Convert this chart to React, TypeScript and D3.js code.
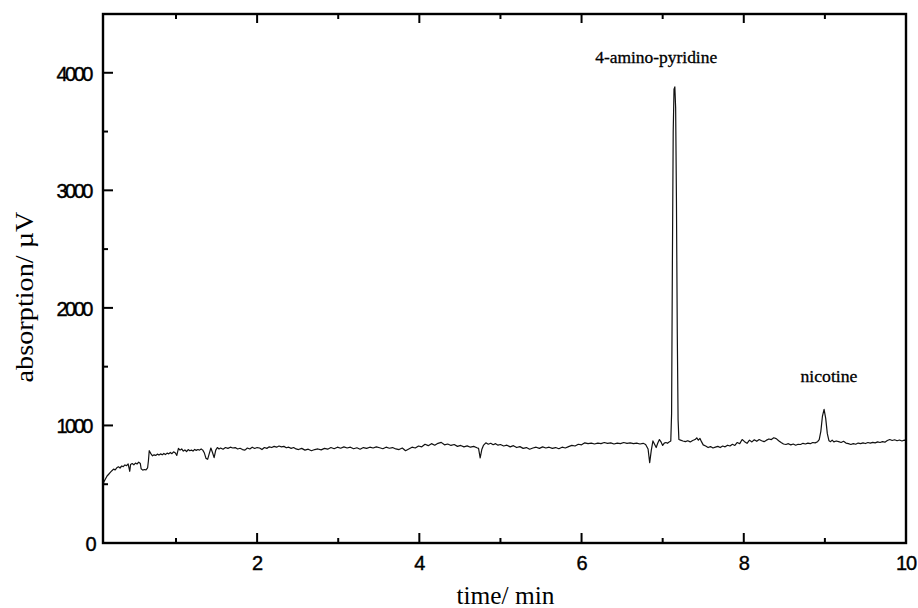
import React from "react";
import * as d3 from "d3";

// [time (min), absorption (µV)]
const trace: [number, number][] = [
  [0.10, 480], [0.11, 520], [0.13, 545], [0.15, 570], [0.17, 585], [0.19, 600], [0.21, 615],
  [0.23, 628], [0.25, 622], [0.27, 640], [0.29, 648], [0.31, 638], [0.33, 655], [0.35, 650],
  [0.37, 664], [0.39, 658], [0.41, 672], [0.43, 610], [0.44, 668], [0.46, 676], [0.48, 665],
  [0.50, 680], [0.52, 672], [0.54, 688], [0.56, 676], [0.57, 632], [0.59, 620], [0.61, 625],
  [0.63, 622], [0.65, 640], [0.66, 700], [0.67, 785], [0.69, 760], [0.71, 742], [0.73, 750],
  [0.75, 745], [0.77, 756], [0.79, 748], [0.81, 758], [0.83, 750], [0.85, 762], [0.87, 752],
  [0.89, 765], [0.91, 758], [0.93, 770], [0.95, 760], [0.97, 775], [0.99, 768], [1.01, 745],
  [1.03, 805], [1.05, 790], [1.07, 800], [1.09, 782], [1.11, 792], [1.13, 778], [1.15, 795],
  [1.17, 785], [1.19, 790], [1.21, 782], [1.23, 796], [1.25, 788], [1.27, 795], [1.29, 790],
  [1.31, 800], [1.33, 790], [1.35, 765], [1.37, 720], [1.39, 712], [1.41, 760], [1.43, 808],
  [1.45, 770], [1.47, 726], [1.49, 790], [1.51, 812], [1.53, 800], [1.55, 808], [1.58, 798],
  [1.61, 812], [1.64, 805], [1.67, 815], [1.70, 808], [1.73, 812], [1.76, 800], [1.79, 806],
  [1.82, 795], [1.85, 790], [1.88, 808], [1.91, 800], [1.94, 815], [1.97, 804], [2.00, 812],
  [2.03, 808], [2.06, 795], [2.09, 812], [2.12, 805], [2.15, 818], [2.18, 812], [2.21, 822],
  [2.24, 815], [2.27, 825], [2.30, 818], [2.33, 822], [2.36, 810], [2.39, 815], [2.42, 805],
  [2.45, 812], [2.48, 800], [2.51, 795], [2.55, 805], [2.59, 790], [2.63, 798], [2.67, 785],
  [2.71, 795], [2.75, 800], [2.79, 792], [2.83, 805], [2.87, 798], [2.91, 812], [2.95, 802],
  [2.99, 815], [3.03, 806], [3.07, 818], [3.11, 808], [3.15, 815], [3.19, 802], [3.23, 810],
  [3.27, 798], [3.31, 812], [3.35, 805], [3.39, 815], [3.43, 808], [3.47, 818], [3.51, 810],
  [3.55, 802], [3.59, 815], [3.63, 806], [3.67, 812], [3.71, 800], [3.75, 795], [3.79, 808],
  [3.83, 785], [3.87, 800], [3.91, 815], [3.95, 808], [3.99, 825], [4.03, 818], [4.07, 840],
  [4.11, 828], [4.15, 845], [4.19, 832], [4.23, 848], [4.27, 856], [4.31, 835], [4.35, 842],
  [4.39, 830], [4.43, 838], [4.47, 822], [4.51, 830], [4.55, 818], [4.59, 826], [4.63, 815],
  [4.67, 822], [4.71, 810], [4.73, 805], [4.75, 723], [4.77, 795], [4.79, 830], [4.82, 852],
  [4.85, 840], [4.88, 848], [4.91, 836], [4.94, 845], [4.97, 832], [5.00, 838], [5.04, 825],
  [5.08, 832], [5.12, 818], [5.16, 828], [5.20, 812], [5.24, 820], [5.28, 805], [5.32, 812],
  [5.36, 798], [5.40, 808], [5.44, 815], [5.48, 805], [5.52, 818], [5.56, 808], [5.60, 815],
  [5.64, 805], [5.68, 812], [5.72, 802], [5.76, 815], [5.80, 808], [5.84, 820], [5.88, 830],
  [5.92, 825], [5.96, 840], [6.00, 835], [6.04, 852], [6.08, 845], [6.12, 850], [6.16, 842],
  [6.20, 850], [6.24, 845], [6.28, 855], [6.32, 848], [6.36, 852], [6.40, 842], [6.44, 850],
  [6.48, 845], [6.52, 855], [6.56, 848], [6.60, 852], [6.64, 845], [6.68, 850], [6.72, 842],
  [6.76, 848], [6.79, 838], [6.82, 800], [6.84, 683], [6.86, 790], [6.88, 868], [6.90, 840],
  [6.92, 812], [6.94, 850], [6.96, 880], [6.98, 860], [7.00, 830], [7.02, 850], [7.04, 855],
  [7.06, 848], [7.08, 860], [7.10, 868], [7.11, 1100], [7.12, 2400], [7.13, 3500], [7.14, 3860],
  [7.15, 3880], [7.16, 3700], [7.17, 2900], [7.18, 1800], [7.19, 1050], [7.20, 880], [7.22, 875],
  [7.25, 868], [7.28, 862], [7.31, 870], [7.34, 860], [7.37, 872], [7.40, 880], [7.42, 895],
  [7.44, 875], [7.46, 890], [7.48, 860], [7.50, 835], [7.53, 825], [7.56, 812], [7.59, 820],
  [7.62, 808], [7.65, 815], [7.68, 822], [7.71, 812], [7.74, 825], [7.77, 818], [7.80, 832],
  [7.83, 825], [7.86, 840], [7.89, 830], [7.92, 855], [7.95, 845], [7.98, 880], [8.01, 862],
  [8.04, 848], [8.07, 875], [8.10, 860], [8.13, 878], [8.16, 865], [8.19, 880], [8.22, 870],
  [8.25, 862], [8.28, 875], [8.31, 885], [8.34, 880], [8.37, 895], [8.40, 888], [8.43, 870],
  [8.46, 855], [8.49, 842], [8.52, 838], [8.55, 845], [8.58, 835], [8.61, 842], [8.64, 832],
  [8.67, 840], [8.70, 838], [8.73, 848], [8.76, 842], [8.79, 850], [8.82, 845], [8.85, 855],
  [8.88, 852], [8.91, 862], [8.93, 880], [8.95, 950], [8.97, 1080], [8.99, 1136], [9.01, 1060],
  [9.03, 930], [9.05, 870], [9.07, 862], [9.09, 875], [9.11, 860], [9.14, 868], [9.17, 862],
  [9.20, 855], [9.23, 865], [9.26, 850], [9.29, 845], [9.32, 838], [9.35, 845], [9.38, 840],
  [9.41, 850], [9.44, 845], [9.47, 852], [9.50, 846], [9.53, 855], [9.56, 850], [9.59, 856],
  [9.62, 852], [9.65, 860], [9.68, 855], [9.71, 862], [9.74, 858], [9.77, 872], [9.80, 880],
  [9.83, 872], [9.86, 878], [9.89, 870], [9.92, 876], [9.95, 868], [9.98, 875], [10.00, 870],
];

const xMajorTicks = [2, 4, 6, 8, 10];
const xMinorTicks = [1, 3, 5, 7, 9];
const yMajorTicks = [0, 1000, 2000, 3000, 4000];
const yMinorTicks = [500, 1500, 2500, 3500];

const peakNames = ["4-amino-pyridine", "nicotine"];
const peakLabelTimes = [6.92, 9.05];
const peakLabelValues = [4079, 1372];

const xTitle = "time/ min";
const yTitle = "absorption/ µV";

const W = 918;
const H = 608;
const L = 103, R = 906, T = 14, B = 543;

export default function App() {
  const x = d3.scaleLinear().domain([0.1, 10]).range([L, R]);
  const y = d3.scaleLinear().domain([0, 4500]).range([B, T]);
  const line = d3
    .line<[number, number]>()
    .x((d) => x(d[0]))
    .y((d) => y(d[1]));

  const serif = "'Liberation Serif', 'DejaVu Serif', serif";
  const sans = "'Liberation Sans', Arial, sans-serif";

  return (
    <svg
      width={W}
      height={H}
      style={{ position: "absolute", left: 0, top: 0, background: "#fff" }}
    >
      <rect x={0} y={0} width={W} height={H} fill="#fff" />
      {/* trace */}
      <path d={line(trace) || ""} fill="none" stroke="#111" strokeWidth={1.2} strokeLinejoin="round" />

      {/* frame */}
      <rect x={L} y={T} width={R - L} height={B - T} fill="none" stroke="#000" strokeWidth={2.4} />

      {/* bottom & top ticks */}
      {xMajorTicks.map((t) => (
        <g key={"xM" + t}>
          <line x1={x(t)} x2={x(t)} y1={B} y2={B - 10} stroke="#000" strokeWidth={2} />
          <line x1={x(t)} x2={x(t)} y1={T} y2={T + 9} stroke="#000" strokeWidth={2} />
          <text x={x(t)} y={570} textAnchor="middle" fontFamily={sans} fontSize={20} fill="#000"
            stroke="#000" strokeWidth={0.4} letterSpacing={-1}>
            {t}
          </text>
        </g>
      ))}
      {xMinorTicks.map((t) => (
        <g key={"xm" + t}>
          <line x1={x(t)} x2={x(t)} y1={B} y2={B - 5} stroke="#000" strokeWidth={2} />
          <line x1={x(t)} x2={x(t)} y1={T} y2={T + 5} stroke="#000" strokeWidth={2} />
        </g>
      ))}

      {/* left ticks */}
      {yMajorTicks.map((v) => (
        <g key={"yM" + v}>
          <line x1={L} x2={L + 10} y1={y(v)} y2={y(v)} stroke="#000" strokeWidth={2} />
          <text x={v === 0 ? 94 : 91} y={y(v) + 8} textAnchor="end" fontFamily={sans} fontSize={20} fill="#000"
            stroke="#000" strokeWidth={0.4} letterSpacing={-2.5}>
            {v}
          </text>
        </g>
      ))}
      {yMinorTicks.map((v) => (
        <line key={"ym" + v} x1={L} x2={L + 5} y1={y(v)} y2={y(v)} stroke="#000" strokeWidth={2} />
      ))}

      {/* peak labels */}
      {peakNames.map((n, i) => (
        <text
          key={n}
          x={x(peakLabelTimes[i])}
          y={y(peakLabelValues[i])}
          textAnchor="middle"
          fontFamily={serif}
          fontSize={17}
          fill="#000"
          stroke="#000"
          strokeWidth={0.3}
          textLength={i === 0 ? 122 : 57}
          lengthAdjust="spacingAndGlyphs"
        >
          {n}
        </text>
      ))}

      {/* axis titles */}
      <text
        x={(L + R) / 2 + 1}
        y={604}
        textAnchor="middle"
        fontFamily={serif}
        fontSize={25}
        fill="#000"
        textLength={98}
        lengthAdjust="spacingAndGlyphs"
      >
        {xTitle}
      </text>
      <text
        transform={`translate(33, 297) rotate(-90)`}
        textAnchor="middle"
        fontFamily={serif}
        fontSize={25}
        fill="#000"
        textLength={171}
        lengthAdjust="spacingAndGlyphs"
      >
        {yTitle}
      </text>
    </svg>
  );
}
